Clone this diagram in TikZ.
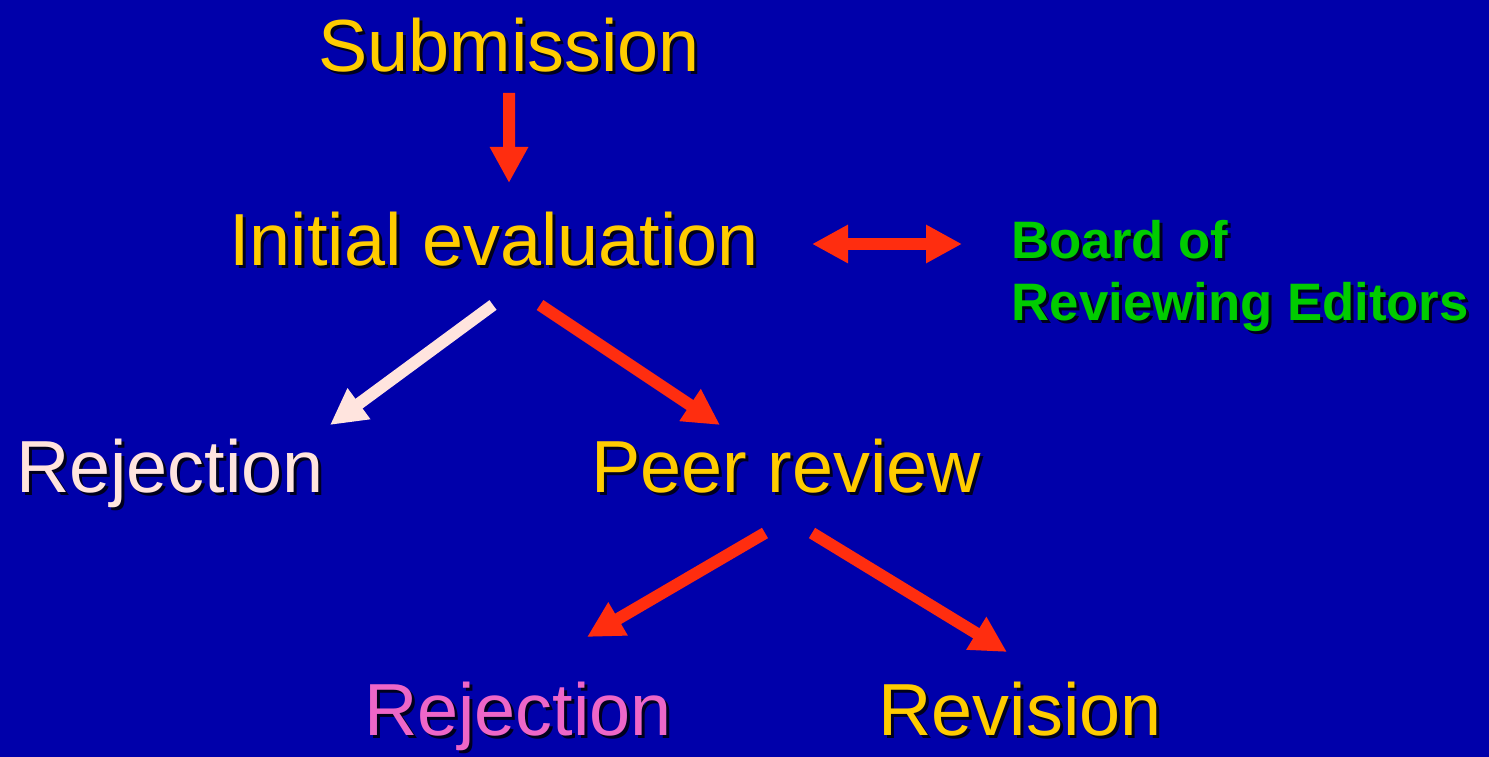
\documentclass[tikz,border=0pt]{standalone}
\usepackage{fontspec}
\setmainfont{Liberation Sans}
\usetikzlibrary{arrows.meta}
\definecolor{bgblue}{RGB}{0,0,170}
\definecolor{stageyellow}{RGB}{255,204,0}
\definecolor{arrowred}{RGB}{255,45,15}
\definecolor{rejwhite}{RGB}{255,228,222}
\definecolor{rejpink}{RGB}{238,102,200}
\definecolor{boardgreen}{RGB}{0,204,0}
\definecolor{txtshadow}{RGB}{0,0,30}
\newcommand{\shd}[1]{\makebox[0pt][l]{\hspace{0.03cm}\raisebox{-0.03cm}{\color{txtshadow}#1}}#1}
\begin{document}
\begin{tikzpicture}[>={Triangle[width=0.36cm,length=0.36cm]},
				stage/.style={inner sep=0pt,anchor=base,font=\fontsize{21}{25}\selectfont,text=stageyellow},
				board/.style={inner sep=0pt,anchor=north west,align=left,font=\bfseries\fontsize{15}{17.6}\selectfont,text=boardgreen},
				flow/.style={draw=arrowred,line width=0.12cm,->}]
\fill[bgblue] (0,0) rectangle (14.89,-7.57);
\useasboundingbox (0,0) rectangle (14.89,-7.57);
\node[stage] (sub) at (5.09,-0.72) {\shd{Submission}};
\node[stage] (init) at (4.94,-2.66) {\shd{Initial evaluation}};
\node[board] (brd) at (10.11,-2.20) {\shd{Board of}\\\shd{Reviewing Editors}};
\node[stage,text=rejwhite] (rej1) at (1.70,-4.93) {\shd{Rejection}};
\node[stage] (peer) at (7.86,-4.93) {\shd{Peer review}};
\node[stage,text=rejpink] (rej2) at (5.18,-7.36) {\shd{Rejection}};
\node[stage] (rev) at (10.20,-7.36) {\shd{Revision}};
\draw[flow] ([yshift=-0.21cm]sub.base) -- ([shift={(0.15,0.83)}]init.base);
\draw[flow,<->] ([shift={(3.18,0.22)}]init.base) -- ([shift={(-0.49,-0.24)}]brd.north west);
\draw[flow,draw=rejwhite] ([shift={(-0.01,-0.39)}]init.base) -- ([shift={(1.60,0.68)}]rej1.base);
\draw[flow] ([shift={(0.46,-0.39)}]init.base) -- ([shift={(-0.66,0.68)}]peer.base);
\draw[flow] ([shift={(-0.21,-0.40)}]peer.base) -- ([shift={(0.69,0.99)}]rej2.base);
\draw[flow] ([shift={(0.26,-0.40)}]peer.base) -- ([shift={(-0.13,0.84)}]rev.base);
\end{tikzpicture}
\end{document}
